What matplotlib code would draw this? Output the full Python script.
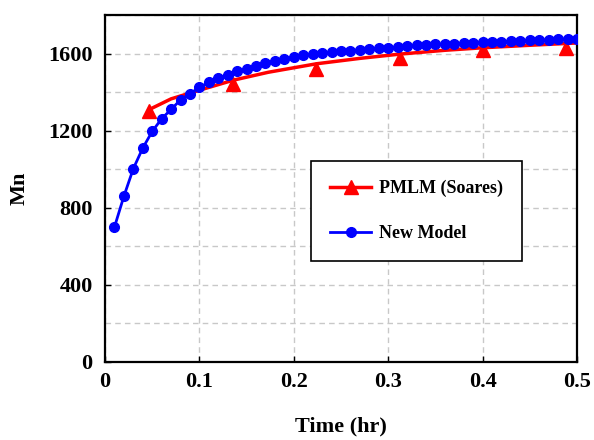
#!/usr/bin/env python3
"""
Mn versus time: PMLM (Soares) compared with the new model
"""

import matplotlib
matplotlib.use("Agg")
import matplotlib.pyplot as plt
from matplotlib.lines import Line2D
from matplotlib.ticker import MultipleLocator

# New model (blue circles), one point every 0.01 hr
new_t = [round(0.01 * i, 2) for i in range(1, 51)]
new_mn = [700, 860, 1003, 1110, 1196, 1262, 1310, 1360, 1391, 1425,
          1450, 1472, 1491, 1507, 1522, 1538, 1550, 1562, 1570, 1581,
          1590, 1596, 1601, 1606, 1611, 1615, 1620, 1624, 1627, 1630,
          1634, 1638, 1642, 1645, 1647, 1650, 1652, 1654, 1656, 1658,
          1660, 1662, 1664, 1666, 1668, 1670, 1672, 1674, 1676, 1678]

# PMLM (Soares) markers
pmlm_t = [0.047, 0.136, 0.224, 0.312, 0.400, 0.488]
pmlm_mn = [1302, 1443, 1522, 1575, 1616, 1630]

# PMLM (Soares) curve
pmlm_curve_t = [0.047, 0.07, 0.10, 0.136, 0.173, 0.224, 0.27, 0.312,
                0.36, 0.40, 0.45, 0.50]
pmlm_curve_mn = [1310, 1365, 1410, 1462, 1503, 1547, 1575, 1597,
                 1617, 1630, 1643, 1655]

RED = "#ff0000"
BLUE = "#0000ff"

plt.rcParams["font.family"] = ["Liberation Serif", "DejaVu Serif"]
plt.rcParams["font.weight"] = "bold"


def make_plot():
    fig = plt.figure(figsize=(5.94, 4.4), dpi=100)
    ax = fig.add_axes([0.1768, 0.1773, 0.7946, 0.7886])

    ax.plot(pmlm_curve_t, pmlm_curve_mn, color=RED, lw=2.5, zorder=3)
    ax.plot(pmlm_t, pmlm_mn, ls="none", marker="^", color=RED,
            markersize=10.5, zorder=3)
    ax.plot(new_t, new_mn, color=BLUE, lw=2, marker="o", markersize=7,
            zorder=4)

    ax.set_xlim(0, 0.5)
    ax.set_ylim(0, 1800)
    ax.set_xticks([0, 0.1, 0.2, 0.3, 0.4, 0.5])
    ax.set_xticklabels(["0", "0.1", "0.2", "0.3", "0.4", "0.5"])
    ax.yaxis.set_major_locator(MultipleLocator(400))
    ax.yaxis.set_minor_locator(MultipleLocator(200))

    ax.grid(True, which="both", color="#c8c8c8", ls=(0, (4, 3)), lw=1)
    ax.tick_params(which="major", direction="in", length=4, width=1,
                   labelsize=16, pad=7)
    ax.tick_params(axis="y", pad=9)
    ax.tick_params(which="minor", length=0)
    for sp in ax.spines.values():
        sp.set_linewidth(1.6)

    ax.set_xlabel("Time (hr)", fontsize=16, fontweight="bold", labelpad=18)
    ax.set_ylabel("Mn", fontsize=16, fontweight="bold", labelpad=13)

    handles = [
        Line2D([], [], color=RED, lw=2.5, marker="^", markersize=10.5),
        Line2D([], [], color=BLUE, lw=2, marker="o", markersize=7),
    ]
    leg = ax.legend(handles, ["PMLM (Soares)", "New Model"],
                    loc="upper left", bbox_to_anchor=(0.436, 0.58),
                    fontsize=13, fancybox=False, framealpha=1,
                    edgecolor="black", handlelength=2.3, labelspacing=1.55,
                    borderpad=1.05, handletextpad=0.45, borderaxespad=0)
    leg.get_frame().set_linewidth(1.2)

    fig.savefig("out.png", dpi=100)


if __name__ == "__main__":
    make_plot()
